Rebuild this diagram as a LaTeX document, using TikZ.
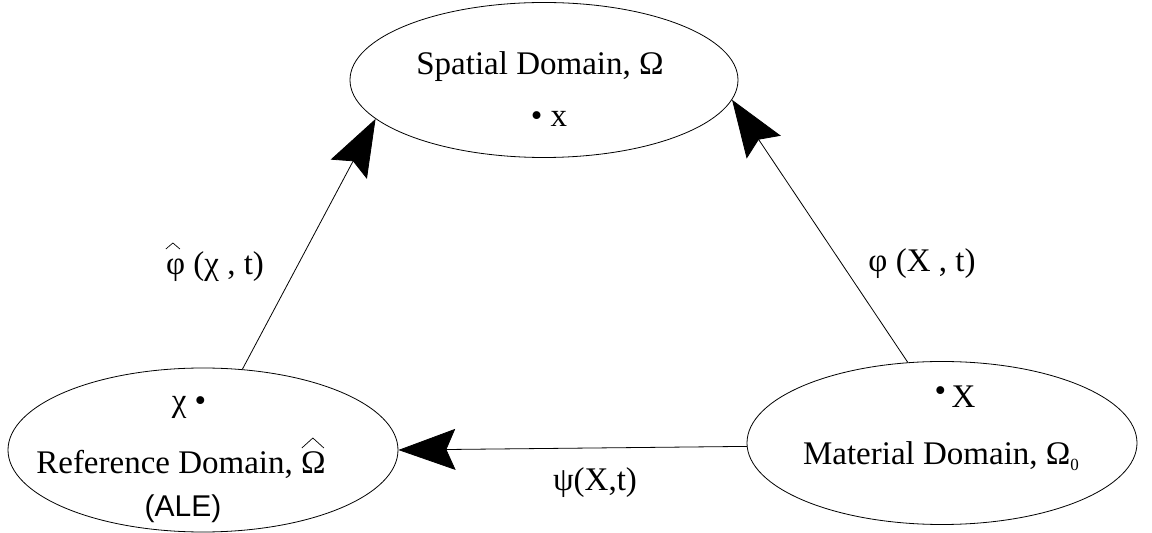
\documentclass[tikz,border=0pt]{standalone}
\usepackage{fontspec}
\setmainfont{Liberation Serif}
\newfontfamily\alesans{Liberation Sans}
\usetikzlibrary{arrows.meta,shapes.geometric}
\tikzset{
  domainbox/.style={draw=black, line width=0.8pt, ellipse, inner sep=0pt},
  lbl/.style={anchor=base, inner sep=0pt, font=\fontsize{33}{38}\selectfont},
  maparrow/.style={line width=0.8pt, -{Stealth[length=57pt, width=41pt, inset=9pt]}},
  hatline/.style={line width=0.7pt, line join=miter}
}
\begin{document}
\begin{tikzpicture}[x=1pt, y=1pt]
\useasboundingbox[fill=white] (0,0) rectangle (1152,533);
% domains
\node[domainbox, minimum width=388pt, minimum height=155pt] (sp) at (544,453) {};
\node[domainbox, minimum width=390pt, minimum height=164pt] (ref) at (203,83) {};
\node[domainbox, minimum width=390pt, minimum height=163pt] (mat) at (942,90) {};
% texts
\node[lbl] (sptext) at (540,458) {Spatial Domain, Ω};
\node[lbl] (xsmall) at (549,406) {\textbullet\ x};
\node[lbl] (reftext) at (181,59) {Reference Domain, Ω};
\draw[hatline] ([shift={(-24,26)}]reftext.base east) -- ++(11,10) -- ++(11,-10);
\node[lbl, font=\alesans\fontsize{30}{34}\selectfont] (ale) at (183,16) {(ALE)};
\node[lbl] (chi) at (189,121) {χ \textbullet};
\node[lbl] (mattext) at (941,68) {Material Domain, Ω\raisebox{-0.35ex}{\fontsize{17}{17}\selectfont 0}};
\node[lbl] (xbig) at (955,125) {\raisebox{0.45ex}{\textbullet}\,X};
% labels of maps
\node[lbl] (phihat) at (215,258) {φ (χ , t)};
\draw[hatline] ([shift={(0,26)}]phihat.base west) -- ++(7,6) -- ++(7,-6);
\node[lbl] (phi) at (922,261) {φ (X , t)};
\node[lbl] (psi) at (595,42) {ψ(X,t)};
% maps
\draw[maparrow] (ref.64) -- (sp.193);
\draw[maparrow] (mat.113) -- (sp.-6);
\draw[maparrow] (mat.181) -- (ref.east);
\end{tikzpicture}
\end{document}
